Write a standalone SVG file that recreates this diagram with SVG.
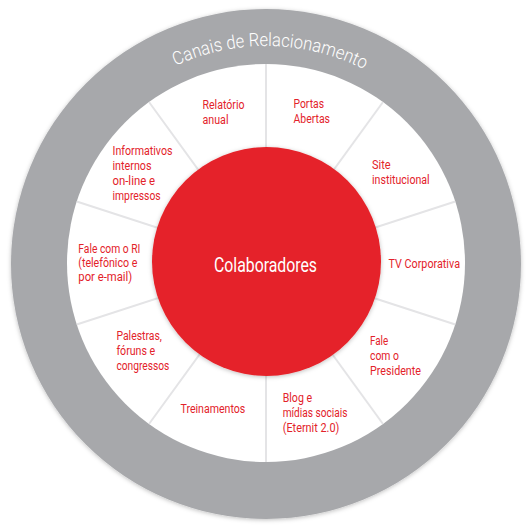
<svg xmlns="http://www.w3.org/2000/svg" width="529" height="529" viewBox="0 0 529 529">
<style>
.lbl{font-family:"Roboto","Liberation Sans",sans-serif;font-size:12.5px;fill:#e3222a}
.title{font-family:"Roboto","Liberation Sans",sans-serif;font-size:18.5px;fill:#ffffff;font-weight:300}
.center{font-family:"Roboto","Liberation Sans",sans-serif;font-size:20px;fill:#ffffff}
.div{stroke:#e4e4e6;stroke-width:2}
</style>
<defs>
<filter id="sh" x="-10%" y="-10%" width="120%" height="120%">
<feDropShadow dx="0" dy="1" stdDeviation="2" flood-color="#000" flood-opacity="0.25"/>
</filter>
<path id="arc" d="M49,263 A217,217 0 0 1 483,263"/>
</defs>
<g id="ring">
<circle cx="266" cy="264" r="255" fill="#a7a8ab" filter="url(#sh)"/>
<circle cx="266" cy="263" r="199" fill="#ffffff"/>
<text class="title"><textPath href="#arc" startOffset="345" text-anchor="middle" textLength="195" lengthAdjust="spacingAndGlyphs">Canais de Relacionamento</textPath></text>
</g>
<g id="dividers">
<line class="div" x1="266" y1="263" x2="266" y2="64"/>
<line class="div" x1="266" y1="263" x2="383" y2="102"/>
<line class="div" x1="266" y1="263" x2="455.3" y2="201.5"/>
<line class="div" x1="266" y1="263" x2="455.3" y2="324.5"/>
<line class="div" x1="266" y1="263" x2="383" y2="424"/>
<line class="div" x1="266" y1="263" x2="266" y2="462"/>
<line class="div" x1="266" y1="263" x2="149" y2="424"/>
<line class="div" x1="266" y1="263" x2="76.7" y2="324.5"/>
<line class="div" x1="266" y1="263" x2="76.7" y2="201.5"/>
<line class="div" x1="266" y1="263" x2="149" y2="102"/>
</g>
<g id="colaboradores">
<circle cx="266.5" cy="261.5" r="114.5" fill="#e52229" filter="url(#sh)"/>
<text class="center" x="265.5" y="271.5" text-anchor="middle" textLength="103" lengthAdjust="spacingAndGlyphs">Colaboradores</text>
</g>
<g id="relatorio">
<text class="lbl" x="202.5" y="109" textLength="42" lengthAdjust="spacingAndGlyphs">Relatório</text>
<text class="lbl" x="202.5" y="124" textLength="26" lengthAdjust="spacingAndGlyphs">anual</text>
</g>
<g id="portas">
<text class="lbl" x="293.5" y="108" textLength="30.5" lengthAdjust="spacingAndGlyphs">Portas</text>
<text class="lbl" x="293.5" y="123" textLength="36.5" lengthAdjust="spacingAndGlyphs">Abertas</text>
</g>
<g id="site">
<text class="lbl" x="372" y="169" textLength="18.6" lengthAdjust="spacingAndGlyphs">Site</text>
<text class="lbl" x="372" y="184" textLength="57.7" lengthAdjust="spacingAndGlyphs">institucional</text>
</g>
<g id="tv">
<text class="lbl" x="388.5" y="267.5" textLength="71.5" lengthAdjust="spacingAndGlyphs">TV Corporativa</text>
</g>
<g id="presidente">
<text class="lbl" x="370" y="345" textLength="18.2" lengthAdjust="spacingAndGlyphs">Fale</text>
<text class="lbl" x="370" y="360" textLength="29" lengthAdjust="spacingAndGlyphs">com o</text>
<text class="lbl" x="370" y="375" textLength="51" lengthAdjust="spacingAndGlyphs">Presidente</text>
</g>
<g id="blog">
<text class="lbl" x="282.7" y="402" textLength="29.4" lengthAdjust="spacingAndGlyphs">Blog e</text>
<text class="lbl" x="282.7" y="417" textLength="64.8" lengthAdjust="spacingAndGlyphs">mídias sociais</text>
<text class="lbl" x="282.7" y="431.5" textLength="56.7" lengthAdjust="spacingAndGlyphs">(Eternit 2.0)</text>
</g>
<g id="treinamentos">
<text class="lbl" x="180.5" y="413" textLength="64.8" lengthAdjust="spacingAndGlyphs">Treinamentos</text>
</g>
<g id="palestras">
<text class="lbl" x="116.4" y="340" textLength="45.5" lengthAdjust="spacingAndGlyphs">Palestras,</text>
<text class="lbl" x="116.4" y="355" textLength="38.8" lengthAdjust="spacingAndGlyphs">fóruns e</text>
<text class="lbl" x="116.4" y="369.5" textLength="53" lengthAdjust="spacingAndGlyphs">congressos</text>
</g>
<g id="fale-ri">
<text class="lbl" x="78.3" y="252.5" textLength="62" lengthAdjust="spacingAndGlyphs">Fale com o RI</text>
<text class="lbl" x="78.3" y="267" textLength="59" lengthAdjust="spacingAndGlyphs">(telefônico e</text>
<text class="lbl" x="78.3" y="281" textLength="54" lengthAdjust="spacingAndGlyphs">por e-mail)</text>
</g>
<g id="informativos">
<text class="lbl" x="112.5" y="154.5" textLength="60" lengthAdjust="spacingAndGlyphs">Informativos</text>
<text class="lbl" x="112.5" y="169.5" textLength="39" lengthAdjust="spacingAndGlyphs">internos</text>
<text class="lbl" x="112.5" y="185" textLength="42.5" lengthAdjust="spacingAndGlyphs">on-line e</text>
<text class="lbl" x="112.5" y="199.5" textLength="48.2" lengthAdjust="spacingAndGlyphs">impressos</text>
</g>
</svg>
